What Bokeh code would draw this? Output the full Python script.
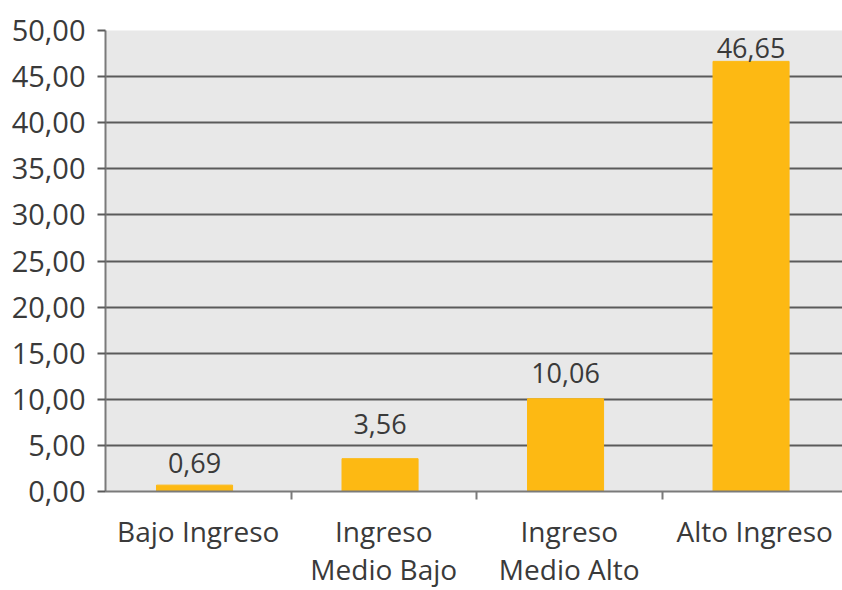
from bokeh.plotting import figure
from bokeh.models import ColumnDataSource, FixedTicker, Range1d, LabelSet
from bokeh.core.properties import value
from bokeh.embed import file_html
from bokeh.resources import INLINE

# Data
categories = ["Bajo Ingreso", "Ingreso\nMedio Bajo", "Ingreso\nMedio Alto", "Alto Ingreso"]
values = [0.69, 3.56, 10.06, 46.65]
value_labels = ["0,69", "3,56", "10,06", "46,65"]
y_ticks = [0, 5, 10, 15, 20, 25, 30, 35, 40, 45, 50]
y_tick_labels = ["0,00", "5,00", "10,00", "15,00", "20,00", "25,00",
                 "30,00", "35,00", "40,00", "45,00", "50,00"]

# Layout: gap in px between each bar top and the baseline of its value label
label_gaps = [12, 25, 16, 3]

FONT = "Open Sans"
BAR_COLOR = "#FDB913"
TEXT_COLOR = "#3a3a3a"

centers = [i + 0.5 - 0.02 for i in range(len(categories))]
source = ColumnDataSource(dict(x=centers, top=values, label=value_labels,
                               gap=label_gaps))

p = figure(width=842, height=590, output_backend="svg", toolbar_location=None,
           x_range=Range1d(0, 3.973), y_range=Range1d(0, 50),
           min_border_left=105, min_border_right=0, min_border_top=30,
           min_border_bottom=99)
p.outline_line_color = None
p.background_fill_color = "#e8e8e8"
p.border_fill_color = "white"

p.vbar(x="x", top="top", width=0.41, bottom=0, color=BAR_COLOR, source=source)

labels = LabelSet(x="x", y="top", text="label", source=source,
                  text_align="center", text_baseline="alphabetic",
                  y_offset="gap",
                  text_font=value(FONT), text_font_size="27px",
                  text_color=TEXT_COLOR)
p.add_layout(labels)

# Grid
p.xgrid.grid_line_color = None
p.ygrid.ticker = FixedTicker(ticks=y_ticks)
p.ygrid.grid_line_color = "#5a5a5a"
p.ygrid.grid_line_width = 2

# Y axis
p.yaxis.ticker = FixedTicker(ticks=y_ticks)
p.yaxis.major_label_overrides = {t: s for t, s in zip(y_ticks, y_tick_labels)}
p.yaxis.major_label_text_font = FONT
p.yaxis.major_label_text_font_size = "29px"
p.yaxis.major_label_text_color = TEXT_COLOR
p.yaxis.major_tick_out = 8
p.yaxis.major_tick_in = 0
p.yaxis.minor_tick_line_color = None
p.yaxis.major_tick_line_color = "#5a5a5a"
p.yaxis.major_tick_line_width = 2
p.yaxis.axis_line_color = "#7a7a7a"
p.yaxis.axis_line_width = 2
p.yaxis.major_label_standoff = 12

# X axis: labels centred under bars, ticks on category boundaries
p.xaxis.ticker = FixedTicker(ticks=[i + 0.5 for i in range(len(categories))],
                             minor_ticks=[1, 2, 3])
p.xaxis.major_label_overrides = {i + 0.5: c for i, c in enumerate(categories)}
p.xaxis.major_label_text_font = FONT
p.xaxis.major_label_text_font_size = "28px"
p.xaxis.major_label_text_color = TEXT_COLOR
p.xaxis.major_label_text_line_height = 1.0
p.xaxis.major_tick_out = 0
p.xaxis.major_tick_in = 0
p.xaxis.minor_tick_out = 8
p.xaxis.minor_tick_in = 0
p.xaxis.minor_tick_line_color = "#7a7a7a"
p.xaxis.minor_tick_line_width = 2
p.xaxis.axis_line_color = "#7a7a7a"
p.xaxis.axis_line_width = 2
p.xaxis.major_label_standoff = 12

open("out.html", "w").write(file_html(p, INLINE))
